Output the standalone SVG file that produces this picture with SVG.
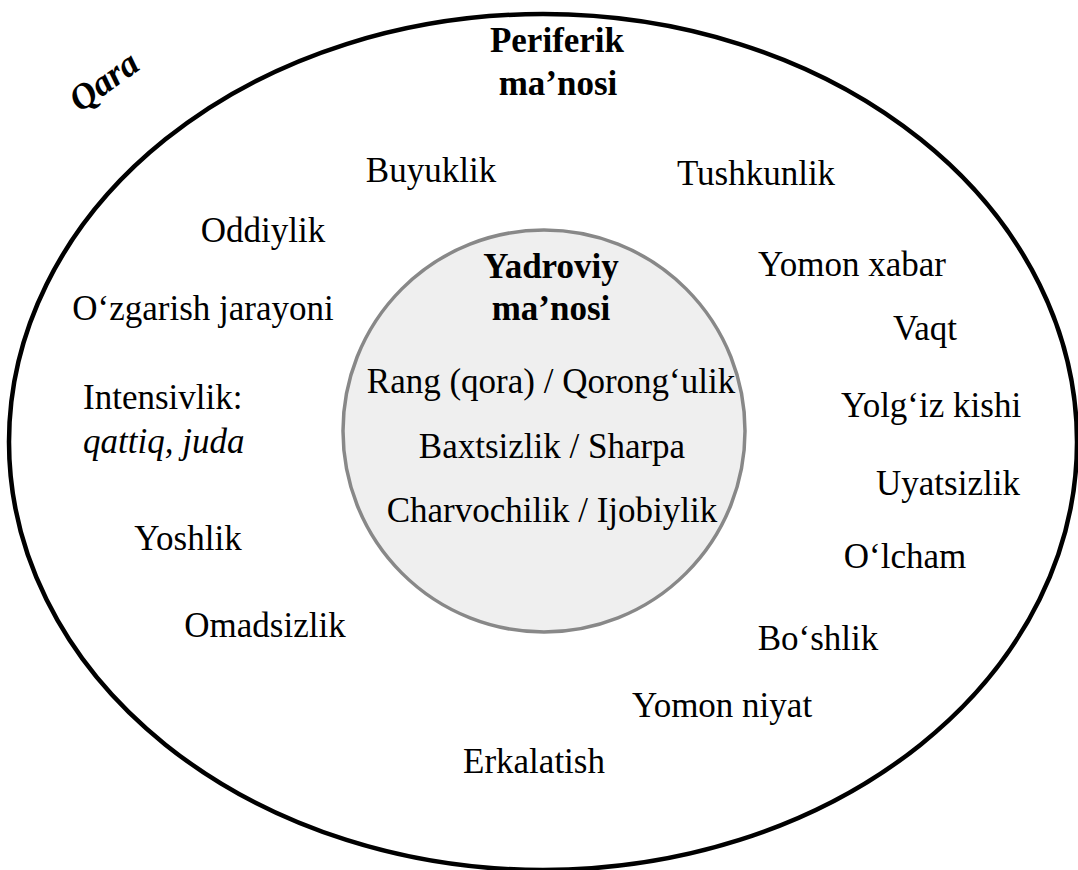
<svg xmlns="http://www.w3.org/2000/svg" width="1078" height="870" viewBox="0 0 1078 870">
<style>
text{font-family:"Liberation Serif","Times New Roman",serif;font-size:35px;fill:#000}
.c{text-anchor:middle}
.b{font-weight:bold}
.i{font-style:italic}
</style>
<rect width="1078" height="870" fill="#fff"/>
<g id="outer">
<ellipse cx="543" cy="442" rx="534" ry="428" fill="none" stroke="#000" stroke-width="4.5"/>
<text class="b i" style="font-size:36px" transform="translate(80,113) rotate(-36)">Qara</text>
<text class="b c" x="557" y="52">Periferik</text>
<text class="b c" x="558" y="95">ma’nosi</text>
</g>
<g id="core">
<circle cx="544" cy="431" r="201" fill="#efefef" stroke="#888" stroke-width="3.5"/>
<text class="b c" x="551" y="278">Yadroviy</text>
<text class="b c" x="551" y="320">ma’nosi</text>
<text class="c" x="551" y="393">Rang (qora) / Qorong‘ulik</text>
<text class="c" x="552" y="458">Baxtsizlik / Sharpa</text>
<text class="c" x="552" y="522">Charvochilik / Ijobiylik</text>
</g>
<g id="periphery">
<text class="c" x="431" y="182">Buyuklik</text>
<text class="c" x="756" y="185">Tushkunlik</text>
<text class="c" x="263" y="242">Oddiylik</text>
<text class="c" x="852" y="276">Yomon xabar</text>
<text class="c" x="203" y="320">O‘zgarish jarayoni</text>
<text class="c" x="925" y="340">Vaqt</text>
<text x="83" y="409">Intensivlik:</text>
<text class="i" x="83" y="453">qattiq, juda</text>
<text class="c" x="931" y="417">Yolg‘iz kishi</text>
<text class="c" x="948" y="495">Uyatsizlik</text>
<text class="c" x="905" y="568">O‘lcham</text>
<text class="c" x="188" y="550">Yoshlik</text>
<text class="c" x="265" y="637">Omadsizlik</text>
<text class="c" x="818" y="650">Bo‘shlik</text>
<text class="c" x="722" y="717">Yomon niyat</text>
<text class="c" x="534" y="773">Erkalatish</text>
</g>
<g id="connectors"></g>
</svg>
